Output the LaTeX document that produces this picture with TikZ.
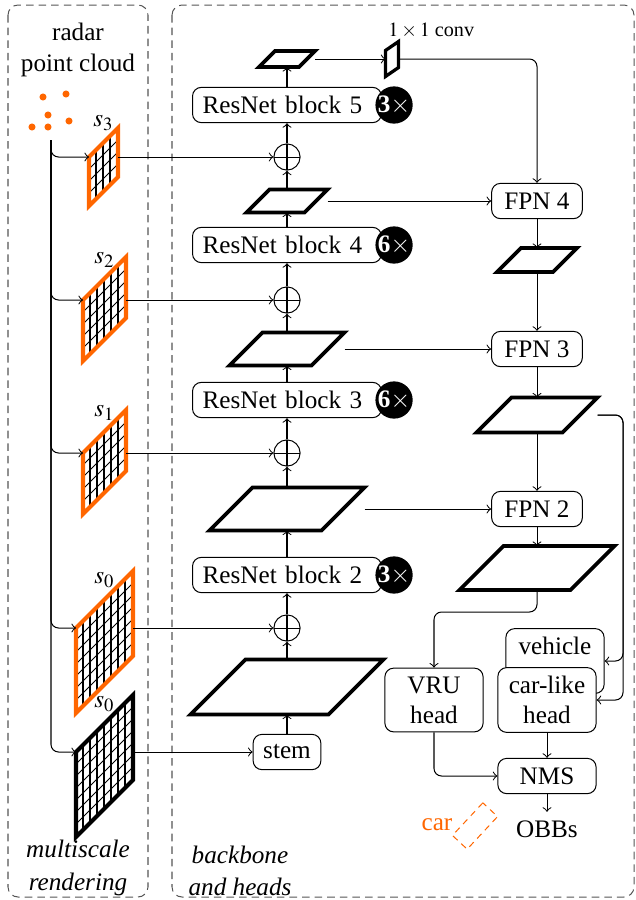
\documentclass[tikz,border=0pt]{standalone}
\usepackage{mathptmx}
\usepackage{fontspec}
\setmainfont{Liberation Serif}
\usetikzlibrary{positioning,calc}
\definecolor{radarorange}{RGB}{255,102,0}
\definecolor{framegray}{RGB}{85,85,85}

% feature map: name, centre, top width, height (px)
\newcommand{\featmap}[4]{%
  \node[fmapbox, minimum width={(#3+#4)*0.397pt}, minimum height={#4*0.397pt}] (#1) at #2 {};
  \draw[fmapline] (#1.south west) -- ++(#3,0) -- (#1.north east) -- ++(-#3,0) -- cycle;}

% rendered grid: name, top left corner, columns, rows, colour, label
\newcommand{\radargrid}[6]{%
  \begin{scope}[shift={#2}, yslant=1]
    \node[gridbox, minimum width={#3*7*0.397pt}, minimum height={#4*12*0.397pt}] (#1) at (0,0) {};
    \foreach \i in {1,...,#3} \draw[gridline] (7*\i,0) -- ++(0,12*#4);
    \foreach \j in {1,...,#4} \draw[gridline] (0,12*\j) -- ++(7*#3,0);
  \end{scope}
  \draw[gridframe, draw=#5] (#1.north west) -- (#1.north east) -- (#1.south east) -- (#1.south west) -- cycle;
  \node[above=1pt] (#1-lab) at (#1.north) {#6};}

\begin{document}
\begin{tikzpicture}[x=0.397pt, y=-0.397pt,
    box/.style={rectangle, draw, rounded corners=3.5pt, minimum height=14pt, inner xsep=4pt},
    resblock/.style={box, text width=67pt, align=left},
    fpnbox/.style={box, minimum width=36pt},
    headbox/.style={box, minimum width=39pt, align=center, fill=white},
    badge/.style={circle, fill=black, text=white, inner sep=0pt, minimum size=14.3pt},
    addnode/.style={circle, draw, inner sep=0pt, minimum size=10.4pt,
      path picture={\draw (path picture bounding box.north) -- (path picture bounding box.south)
        (path picture bounding box.west) -- (path picture bounding box.east);}},
    fmapbox/.style={rectangle, inner sep=0pt},
    fmapline/.style={line width=1.5pt, line join=miter},
    gridbox/.style={rectangle, inner sep=0pt, transform shape, anchor=north west},
    gridline/.style={line width=0.4pt},
    gridframe/.style={line width=1.6pt, line join=miter},
    groupframe/.style={draw=framegray, dash pattern=on 3pt off 2pt, rounded corners=4pt},
    caption/.style={font=\itshape, align=center},
    carbox/.style={rectangle, draw=radarorange, dash pattern=on 2.5pt off 2pt, inner sep=0pt,
      minimum width=17.7pt, minimum height=8pt}
]
    \useasboundingbox (0,0) rectangle (636,900);

    % group frames
    \draw[groupframe] (8,5) rectangle (148,897);
    \draw[groupframe] (172,5) rectangle (634,897);

    % Multiscale rendering
    \node[align=center] (radar) at (78,50) {radar\\point cloud};
    \foreach \p in {(43,97),(66,94),(48,115),(69,121),(32,127),(48,127)}
        \fill[radarorange] \p circle (1.4pt);
    \coordinate (cloud) at (51,140);

    \radargrid{g3}{(89,157)}{4}{4}{radarorange}{$s_3$}
    \radargrid{g2}{(83,300)}{6}{5}{radarorange}{$s_2$}
    \radargrid{g1}{(83,453)}{6}{5}{radarorange}{$s_1$}
    \radargrid{g0}{(76,628)}{8}{7}{radarorange}{$s_0$}
    \radargrid{g0b}{(76,752)}{8}{7}{black}{$s_0$}

    \draw[->, rounded corners=3pt] (cloud) |- (g3.north west);
    \draw[->, rounded corners=3pt] (cloud) |- (g2.north west);
    \draw[->, rounded corners=3pt] (cloud) |- (g1.north west);
    \draw[->, rounded corners=3pt] (cloud) |- (g0.north west);
    \draw[->, rounded corners=3pt] (cloud) |- (g0b.north west);

    \node[caption] (mslabel) at (78,868) {multiscale\\[1pt]rendering};

    % Backbone
    \node[box] (stem) at (287,752) {stem};
    \featmap{fmap1}{(287,687)}{138}{54}
    \node[addnode] (plus2) at (287,628) {};
    \node[resblock] (block2) at (287,575) {ResNet block 2};
    \featmap{fmap2}{(287,509)}{112}{42}
    \node[addnode] (plus3) at (287,453) {};
    \node[resblock] (block3) at (287,400) {ResNet block 3};
    \featmap{fmap3}{(287,349)}{82}{32}
    \node[addnode] (plus4) at (287,300) {};
    \node[resblock] (block4) at (287,245) {ResNet block 4};
    \featmap{fmap4}{(287,201)}{58}{22}
    \node[addnode] (plus5) at (287,157) {};
    \node[resblock] (block5) at (287,105) {ResNet block 5};
    \featmap{fmap5}{(287,59)}{40}{15}

    \node[badge] (badge2) at ([xshift=4.8pt]block2.east) {\textbf{3}$\times$};
    \node[badge] (badge3) at ([xshift=4.8pt]block3.east) {\textbf{6}$\times$};
    \node[badge] (badge4) at ([xshift=4.8pt]block4.east) {\textbf{6}$\times$};
    \node[badge] (badge5) at ([xshift=4.8pt]block5.east) {\textbf{3}$\times$};

    \draw[->] (stem) -- (fmap1);
    \draw[->] (fmap1) -- (plus2);
    \draw[->] (plus2) -- (block2);
    \draw[->] (block2) -- (fmap2);
    \draw[->] (fmap2) -- (plus3);
    \draw[->] (plus3) -- (block3);
    \draw[->] (block3) -- (fmap3);
    \draw[->] (fmap3) -- (plus4);
    \draw[->] (plus4) -- (block4);
    \draw[->] (block4) -- (fmap4);
    \draw[->] (fmap4) -- (plus5);
    \draw[->] (plus5) -- (block5);
    \draw[->] (block5) -- (fmap5);

    \draw[->] (g3.north west -| g3.east) -- (plus5);
    \draw[->] (g2.north west -| g2.east) -- (plus4);
    \draw[->] (g1.north west -| g1.east) -- (plus3);
    \draw[->] (g0.north west -| g0.east) -- (plus2);
    \draw[->] (g0b.north west -| g0b.east) -- (stem);

    % 1x1 conv
    \node[fmapbox, minimum width=4.8pt, minimum height=13.5pt] (conv) at (392,59) {};
    \draw[fmapline, line width=1.3pt] (conv.south west) -- ++(0,-26) -- (conv.north east) -- ++(0,26) -- cycle;
    \node[font=\footnotesize, inner sep=1pt, anchor=south west] (convlab) at (conv.north west) {$1\times 1$ conv};
    \draw[->] (fmap5) -- (conv);

    % FPN and heads
    \node[fpnbox] (fpn4) at (537,201) {FPN 4};
    \featmap{fout4}{(537,260)}{56}{23}
    \node[fpnbox] (fpn3) at (537,349) {FPN 3};
    \featmap{fout3}{(537,415)}{86}{34}
    \node[fpnbox] (fpn2) at (537,509) {FPN 2};
    \featmap{fout2}{(537,568)}{111}{43}

    \draw[->, rounded corners=3pt] (conv) -| (fpn4);
    \draw[->] (fmap4) -- (fpn4);
    \draw[->] (fmap3) -- (fpn3);
    \draw[->] (fmap2) -- (fpn2);
    \draw[->] (fpn4) -- (fout4);
    \draw[->] (fout4) -- (fpn3);
    \draw[->] (fpn3) -- (fout3);
    \draw[->] (fout3) -- (fpn2);
    \draw[->] (fpn2) -- (fout2);

    \node[headbox] (vehicle) at (555,661) {vehicle\\\phantom{head}};
    \node[headbox] (carhead) at (547,700) {car-like\\head};
    \node[headbox] (vru) at (434,700) {VRU\\head};
    \node[headbox] (nms) at (547,776) {NMS};
    \node[below=7pt of nms] (obbs) {OBBs};

    \coordinate (rside) at (623,415);
    \coordinate (split) at (486,612);
    \draw[->, rounded corners=3pt] (fout3) -- (rside) |- (vehicle);
    \draw[->, rounded corners=3pt] (fout3) -- (rside) |- (carhead);
    \draw[->, rounded corners=3pt] (fout2) |- (split) -| (vru);
    \draw[->] (carhead) -- (nms);
    \draw[->, rounded corners=3pt] (vru) |- (nms);
    \draw[->] (nms) -- (obbs);

    \node[text=radarorange] (carlab) at (437,825) {car};
    \node[carbox, rotate=47] (carbb) at (475,826) {};

    \node[caption] (bblabel) at (240,871) {backbone\\[1pt]and heads};
\end{tikzpicture}
\end{document}
